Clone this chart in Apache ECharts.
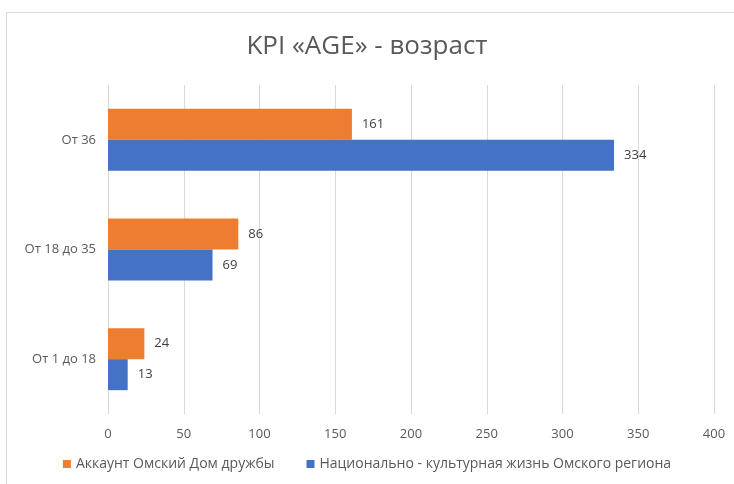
<!DOCTYPE html>
<html>
<head>
<meta charset="utf-8">
<script src="https://cdn.jsdelivr.net/npm/echarts@6/dist/echarts.min.js"></script>
<style>
html, body { margin: 0; padding: 0; background: #fff; }
#chart { width: 734px; height: 484px; }
</style>
</head>
<body>
<div id="chart"></div>
<script>
var categories = ['От 1 до 18', 'От 18 до 35', 'От 36'];
var accountValues = [24, 86, 161];
var regionValues = [13, 69, 334];
var seriesNames = ['Аккаунт Омский Дом дружбы', 'Национально - культурная жизнь Омского региона'];
var titleText = 'KPI «AGE» - возраст';

var font = '"Open Sans", "Liberation Sans", sans-serif';
var chart = echarts.init(document.getElementById('chart'));

var labelStyle = {
    show: true,
    position: 'right',
    distance: 10,
    color: '#404040',
    fontSize: 13,
    fontFamily: font
};

// в ECharts первая серия рисуется сверху внутри категории
var option = {
    animation: false,
    backgroundColor: '#fff',
    title: {
        text: titleText,
        left: 'center',
        top: 29,
        textStyle: { color: '#595959', fontSize: 26, fontWeight: 'normal', fontFamily: font }
    },
    legend: {
        bottom: 8,
        left: 'center',
        itemWidth: 8,
        itemHeight: 8,
        itemGap: 32,
        icon: 'rect',
        data: seriesNames,
        textStyle: { color: '#595959', fontSize: 14, fontFamily: font }
    },
    grid: { left: 108, right: 20, top: 85, bottom: 70 },
    xAxis: {
        type: 'value',
        min: 0,
        max: 400,
        interval: 50,
        axisLine: { show: false },
        axisTick: { show: false },
        axisLabel: { color: '#595959', fontSize: 13, margin: 14, fontFamily: font },
        splitLine: { lineStyle: { color: '#d9d9d9' } }
    },
    yAxis: {
        type: 'category',
        data: categories,
        axisLine: { show: false },
        axisTick: { show: false },
        axisLabel: { color: '#595959', fontSize: 13, margin: 12, fontFamily: font }
    },
    series: [
        {
            name: seriesNames[0],
            type: 'bar',
            data: accountValues,
            barWidth: 31,
            barGap: '0%',
            itemStyle: { color: '#ED7D31' },
            label: labelStyle
        },
        {
            name: seriesNames[1],
            type: 'bar',
            data: regionValues,
            barWidth: 31,
            barGap: '0%',
            itemStyle: { color: '#4472C4' },
            label: labelStyle
        }
    ],
    graphic: [{
        type: 'rect',
        shape: { x: 6.5, y: 12.5, width: 760, height: 500 },
        style: { fill: null, stroke: '#d9d9d9', lineWidth: 1 },
        silent: true
    }]
};
chart.setOption(option);
</script>
</body>
</html>
